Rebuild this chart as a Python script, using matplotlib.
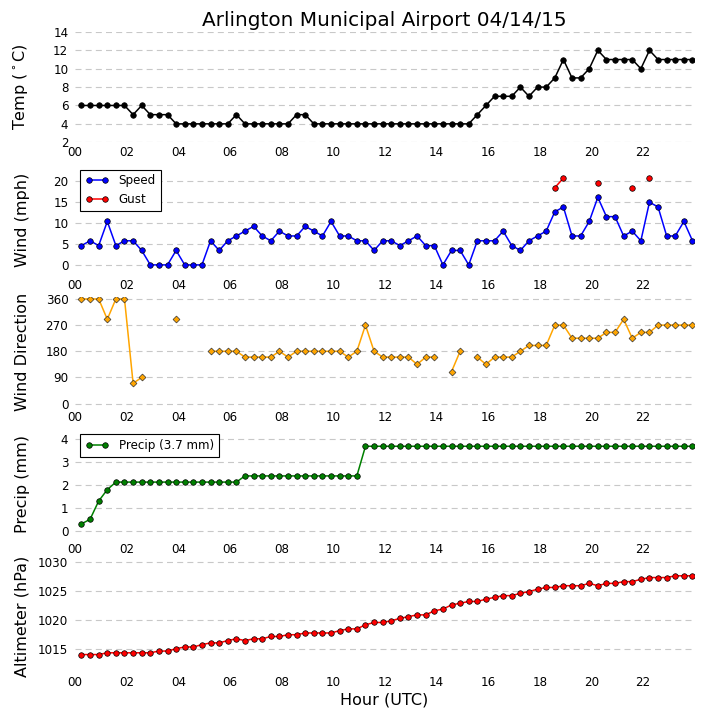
import numpy as np
import pandas as pd
import matplotlib
matplotlib.use("Agg")
import matplotlib.pyplot as plt

nan = np.nan

# observations every 20 minutes, 00:15 .. 23:55 UTC
times = pd.date_range("2015-04-14 00:15", periods=72, freq="20min")
day_start = pd.Timestamp("2015-04-14 00:00")
day_end = pd.Timestamp("2015-04-14 23:59")
hour_ticks = pd.date_range("2015-04-14 00:00", periods=12, freq="2h")

temp_c = [6, 6, 6, 6, 6, 6, 5, 6, 5, 5,
          5, 4, 4, 4, 4, 4, 4, 4, 5, 4,
          4, 4, 4, 4, 4, 5, 5, 4, 4, 4,
          4, 4, 4, 4, 4, 4, 4, 4, 4, 4,
          4, 4, 4, 4, 4, 4, 5, 6, 7, 7,
          7, 8, 7, 8, 8, 9, 11, 9, 9, 10,
          12, 11, 11, 11, 11, 10, 12, 11, 11, 11,
          11, 11]

wind_mph = [4.6, 5.75, 4.6, 10.36, 4.6, 5.75, 5.75, 3.45, 0, 0,
            0, 3.45, 0, 0, 0, 5.75, 3.45, 5.75, 6.9, 8.06,
            9.2, 6.9, 5.75, 8.06, 6.9, 6.9, 9.2, 8.06, 6.9, 10.36,
            6.9, 6.9, 5.75, 5.75, 3.45, 5.75, 5.75, 4.6, 5.75, 6.9,
            4.6, 4.6, 0, 3.45, 3.45, 0, 5.75, 5.75, 5.75, 8.06,
            4.6, 3.45, 5.75, 6.9, 8.06, 12.66, 13.81, 6.9, 6.9, 10.36,
            16.11, 11.51, 11.51, 6.9, 8.06, 5.75, 14.96, 13.81, 6.9, 6.9,
            10.36, 5.75]

gust_mph = [nan] * 55 + [18.41, 20.71, nan, nan, nan, 19.56, nan, nan, nan,
                         18.41, nan, 20.71, nan, nan, nan, nan, nan]

wind_dir = [360, 360, 360, 290, 360, 360, 70, 90, nan, nan,
            nan, 290, nan, nan, nan, 180, 180, 180, 180, 160,
            160, 160, 160, 180, 160, 180, 180, 180, 180, 180,
            180, 160, 180, 270, 180, 160, 160, 160, 160, 135,
            160, 160, nan, 110, 180, nan, 160, 135, 160, 160,
            160, 180, 200, 200, 200, 270, 270, 225, 225, 225,
            225, 245, 245, 290, 225, 245, 245, 270, 270, 270,
            270, 270]

precip_mm = [0.3, 0.5, 1.3, 1.8] + [2.13] * 15 + [2.4] * 14 + [3.7] * 39

altimeter = [1014.1, 1014.1, 1014.1, 1014.4, 1014.4, 1014.4, 1014.4, 1014.4, 1014.4, 1014.7,
             1014.7, 1015.1, 1015.4, 1015.4, 1015.8, 1016.1, 1016.1, 1016.5, 1016.8, 1016.5,
             1016.8, 1016.8, 1017.2, 1017.2, 1017.5, 1017.5, 1017.8, 1017.8, 1017.8, 1017.8,
             1018.2, 1018.5, 1018.5, 1019.2, 1019.6, 1019.6, 1019.9, 1020.3, 1020.6, 1020.9,
             1020.9, 1021.6, 1021.9, 1022.6, 1022.9, 1023.2, 1023.2, 1023.6, 1023.9, 1024.2,
             1024.2, 1024.6, 1024.9, 1025.3, 1025.6, 1025.6, 1025.9, 1025.9, 1025.9, 1026.3,
             1025.9, 1026.3, 1026.3, 1026.6, 1026.6, 1027.0, 1027.3, 1027.3, 1027.3, 1027.6,
             1027.6, 1027.6]

TICK = 8.6
LABEL = 11.5

fig, axes = plt.subplots(5, 1, figsize=(7.05, 7.2), dpi=100)
fig.subplots_adjust(left=0.1064, right=0.9847, top=0.9556, bottom=0.0674,
                    hspace=0.2)

mk = dict(marker="o", ms=4.0, mec="k", mew=0.5, lw=1.1)

ax = axes[0]
ax.plot(times, temp_c, color="k", **mk)
ax.set_ylim(2, 14)
ax.set_yticks([2, 4, 6, 8, 10, 12, 14])
ax.set_ylabel(r"Temp ($^\circ$C)", fontsize=LABEL)
ax.set_title("Arlington Municipal Airport 04/14/15", fontsize=14.4, pad=4)

ax = axes[1]
ax.plot(times, wind_mph, color="b", label="Speed", **mk)
ax.plot(times, gust_mph, color="r", label="Gust", **mk)
ax.set_ylim(-2.3, 24)
ax.set_yticks([0, 5, 10, 15, 20])
ax.set_ylabel("Wind (mph)", fontsize=LABEL)
leg = ax.legend(loc="upper left", numpoints=2, fancybox=False, framealpha=1,
                edgecolor="k", fontsize=TICK, borderaxespad=0.45,
                handlelength=2.0, handletextpad=0.8)
leg.get_frame().set_linewidth(0.8)

ax = axes[2]
ax.plot(times, wind_dir, color="orange", marker="D", ms=3.5, mec="#333333",
        mew=0.5, lw=1.1)
ax.set_ylim(-11, 368)
ax.set_yticks([0, 90, 180, 270, 360])
ax.set_ylabel("Wind Direction", fontsize=LABEL)

ax = axes[3]
ax.plot(times, precip_mm, color="g", label="Precip (%.1f mm)" % precip_mm[-1],
        **mk)
ax.set_ylim(-0.37, 4.46)
ax.set_yticks([0, 1, 2, 3, 4])
ax.set_ylabel("Precip (mm)", fontsize=LABEL)
leg = ax.legend(loc="upper left", numpoints=2, fancybox=False, framealpha=1,
                edgecolor="k", fontsize=TICK, borderaxespad=0.45,
                handlelength=2.0, handletextpad=0.8)
leg.get_frame().set_linewidth(0.8)

ax = axes[4]
ax.plot(times, altimeter, color="r", **mk)
ax.set_ylim(1011.2, 1030.1)
ax.set_yticks([1015, 1020, 1025, 1030])
ax.set_ylabel("Altimeter (hPa)", fontsize=LABEL)
ax.set_xlabel("Hour (UTC)", fontsize=LABEL, labelpad=2.5)

for ax in axes:
    ax.set_xlim(day_start, day_end)
    ax.set_xticks(hour_ticks)
    ax.set_xticklabels([t.strftime("%H") for t in hour_ticks])
    for s in ax.spines.values():
        s.set_visible(False)
    ax.set_axisbelow(True)
    ax.yaxis.grid(True, ls=(0, (5.4, 3.75)), lw=0.8, color="#c8c8c8")
    ax.xaxis.grid(False)
    ax.tick_params(axis="y", length=0, labelsize=TICK, pad=4.8)
    ax.tick_params(axis="x", length=0, labelsize=TICK, pad=3)
    ax.yaxis.set_label_coords(-0.073, 0.5)

fig.savefig("out.png", dpi=100)
